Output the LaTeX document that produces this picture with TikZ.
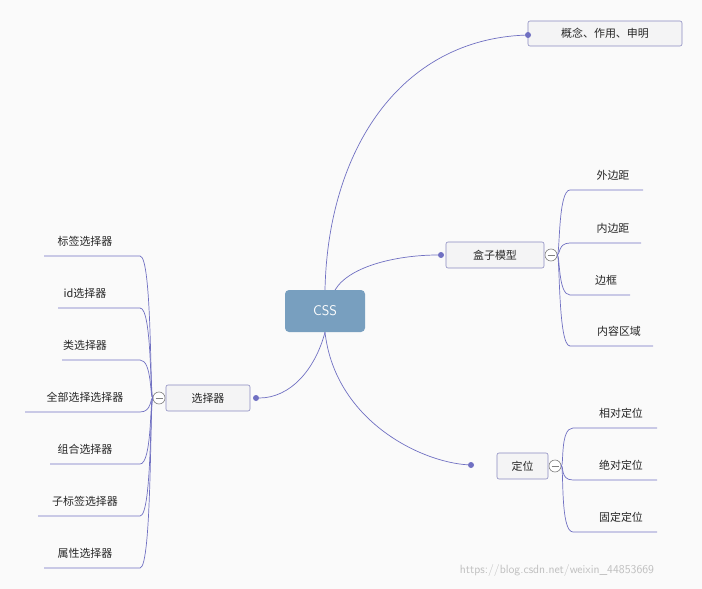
\documentclass[tikz,border=0pt]{standalone}
\usepackage{fontspec}
\newfontfamily\cjk{Noto Sans CJK SC}
\begin{document}
\begin{tikzpicture}[x=1bp,y=-1bp,
  every node/.style={font=\cjk\fontsize{11}{13}\selectfont, text=black!85},
  topic/.style={draw=blue!30!gray!70, fill=blue!5!gray!8, rounded corners=2bp, line width=0.6bp, minimum height=26bp, inner sep=0},
  conn/.style={draw=blue!40!gray!80, line width=0.7bp},
  dotc/.style={circle, fill=blue!40!gray!80, inner sep=0, minimum size=6bp},
  coll/.style={circle, draw=gray, fill=white, inner sep=0, minimum size=12bp, line width=0.6bp},
  leaf/.style={inner sep=1bp}]
\fill[black!2] (0,0) rectangle (702,589);
\useasboundingbox (0,0) rectangle (702,589);
\definecolor{cssblue}{HTML}{789FBF}
\node[fill=cssblue, rounded corners=4bp, minimum width=80bp, minimum height=42bp, text=white, font=\sffamily\fontsize{14}{16}\selectfont] (css) at (325,311) {CSS};
\node[topic, minimum width=154bp, minimum height=25bp] (gn) at (605,33.5) {概念、作用、申明};
\node[topic, minimum width=98bp] (box) at (495,255) {盒子模型};
\node[topic, minimum width=51bp] (pos) at (522.5,466) {定位};
\node[topic, minimum width=84bp] (sel) at (208,398) {选择器};
\node[dotc] (d1) at (528,35) {};
\node[dotc] (d2) at (441,255) {};
\node[dotc] (d3) at (471,465) {};
\node[dotc] (d4) at (256,398) {};
\node[coll] (c2) at (551,255) {};
\node[coll] (c3) at (555,466) {};
\node[coll] (c4) at (159,398) {};
\foreach \c in {c2,c3,c4}{\draw[gray] ([xshift=-3.5bp]\c.center) -- ([xshift=3.5bp]\c.center);}
\draw[conn] (css.north) .. controls (328,150) and (400,40) .. (d1);
\draw[conn] (335,290) .. controls (350,265) and (400,255) .. (d2);
\draw[conn] (css.south) .. controls (335,420) and (420,462) .. (d3);
\draw[conn] (css.south) .. controls (315,370) and (290,398) .. (d4);
% box children
\foreach \n/\t/\y/\xe/\xt in {a/外边距/190/643/613, b/内边距/243/641/613, c/边框/295/630/606, d/内容区域/346/653/619}{
  \coordinate (s\n) at (570,\y); \coordinate (e\n) at (\xe,\y);
  \node[leaf] (t\n) at (\xt,\y-15) {\t};
  \draw[conn] (c2.east) .. controls (560,255) and (558,\y) .. (s\n) -- (e\n);
}
\foreach \n/\t/\y in {p/相对定位/428, q/绝对定位/480, r/固定定位/532}{
  \coordinate (s\n) at (573,\y); \coordinate (e\n) at (657,\y);
  \node[leaf] (t\n) at (621,\y-15) {\t};
  \draw[conn] (c3.east) .. controls (564,466) and (560,\y) .. (s\n) -- (e\n);
}
\foreach \n/\t/\y/\xs in {g/标签选择器/256/44, h/id选择器/308/58, i/类选择器/360/62, j/全部选择选择器/412/25, k/组合选择器/464/50, l/子标签选择器/516/38, m/属性选择器/568/44}{
  \coordinate (s\n) at (140,\y); \coordinate (e\n) at (\xs,\y);
  \node[leaf] (t\n) at (85,\y-15) {\t};
  \draw[conn] (c4.west) .. controls (150,398) and (152,\y) .. (s\n) -- (e\n);
}
\node[text=black!25, font=\sffamily\fontsize{12}{14}\selectfont] (wm) at (557,571) {https://blog.csdn.net/weixin\_44853669};
\end{tikzpicture}
\end{document}
